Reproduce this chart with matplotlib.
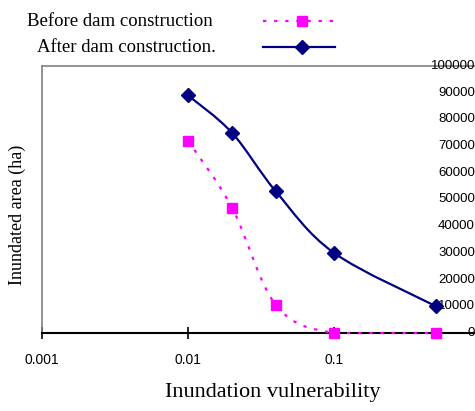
import numpy as np
import matplotlib.pyplot as plt
from matplotlib.path import Path
from matplotlib.patches import PathPatch
from matplotlib.lines import Line2D
import matplotlib.transforms as mtransforms

vulnerability = [0.01, 0.02, 0.04, 0.1, 0.5]
area_before = [72000, 47000, 10500, 0, 0]
area_after = [89000, 75000, 53000, 30000, 10000]
y_ticks = [0, 10000, 20000, 30000, 40000, 50000, 60000, 70000, 80000, 90000, 100000]
x_ticks = [0.001, 0.01, 0.1]
x_tick_labels = ["0.001", "0.01", "0.1"]

series = [
    ("Before dam construction", area_before, "#FF00FF", (0, (1.5, 3.5)), "s", 7),
    ("After dam construction.", area_after, "#000080", "-", "D", 7),
]

W, H = 475, 411
fig = plt.figure(figsize=(W / 100, H / 100), dpi=100)
ax = fig.add_axes([42 / W, 78 / H, 438 / W, 267 / H])
ax.set_xscale("log")
ax.set_xlim(0.001, 1)
ax.set_ylim(0, 100000)


def smooth_path(xs, ys):
    # Excel-like smoothed line: Catmull-Rom bezier in log-x space
    lx = np.log10(xs)
    # normalise y so both dims are comparable on screen
    ny = np.array(ys) / 100000 * (267 / 146)
    pts = np.column_stack([lx, ny])
    verts = [pts[0]]
    codes = [Path.MOVETO]
    n = len(pts)
    for i in range(n - 1):
        p0 = pts[max(i - 1, 0)]
        p1 = pts[i]
        p2 = pts[i + 1]
        p3 = pts[min(i + 2, n - 1)]
        c1 = p1 + (p2 - p0) / 6
        c2 = p2 - (p3 - p1) / 6
        verts += [c1, c2, p2]
        codes += [Path.CURVE4] * 3
    verts = np.array(verts)
    verts[:, 0] = 10 ** verts[:, 0]
    verts[:, 1] = np.maximum(verts[:, 1], 0) * 100000 / (267 / 146)
    return Path(verts, codes)


for name, vals, color, ls, mk, ms in series:
    patch = PathPatch(smooth_path(vulnerability, vals), facecolor="none",
                      edgecolor=color, linestyle=ls, lw=1.6, zorder=3,
                      transform=ax.transData, clip_on=False)
    ax.add_patch(patch)
    ax.plot(vulnerability, vals, linestyle="none", marker=mk, markersize=ms,
            color=color, zorder=4, clip_on=False)

# axes look
for s in ["left", "top"]:
    ax.spines[s].set_color("#808080")
    ax.spines[s].set_linewidth(1.2)
ax.spines["right"].set_visible(False)
ax.spines["bottom"].set_color("black")
ax.spines["bottom"].set_linewidth(1.5)

ax.set_yticks([])
ax.minorticks_off()
ax.set_xticks(x_ticks)
ax.set_xticklabels(x_tick_labels, fontfamily="Liberation Sans", fontsize=10)
ax.tick_params(axis="x", which="both", direction="inout", length=9, width=1.2, pad=10)
ax.xaxis.set_minor_locator(plt.NullLocator())

trans = mtransforms.blended_transform_factory(fig.transFigure, ax.transData)
for v in y_ticks:
    ax.text(475 / W, v, str(v), transform=trans, ha="right", va="center",
            fontfamily="Liberation Sans", fontsize=9.5, clip_on=False)

fig.text(273 / W, 1 - 392 / H, "Inundation vulnerability", ha="center", va="center",
         fontfamily="Liberation Serif", fontsize=16)
fig.text(17 / W, 1 - 215 / H, "Inundated area (ha)", rotation=90, ha="center",
         va="center", fontfamily="Liberation Serif", fontsize=13)

# legend drawn by hand, like the original
for (name, vals, color, ls, mk, ms), ty, tx in zip(series, [21, 47], [27, 37]):
    fy = 1 - ty / H
    fig.text(tx / W, fy, name, ha="left", va="center",
             fontfamily="Liberation Serif", fontsize=13.5)
    fig.add_artist(Line2D([263 / W, 335 / W], [fy, fy], color=color, linestyle=ls,
                          lw=1.6, transform=fig.transFigure))
    fig.add_artist(Line2D([302 / W], [fy], color=color, marker=mk, markersize=ms,
                          linestyle="none", transform=fig.transFigure))

fig.savefig("out.png", dpi=100)
